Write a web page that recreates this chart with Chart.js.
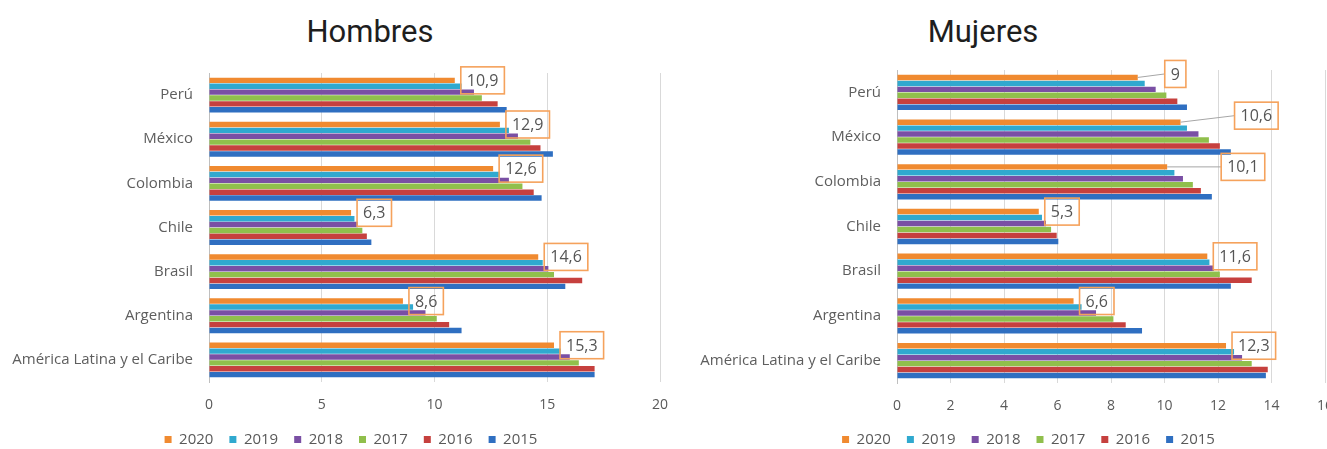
<!DOCTYPE html>
<html lang="es">
  <head>
    <meta charset="UTF-8" />
    <title>Hombres / Mujeres</title>
    <script src="https://cdn.jsdelivr.net/npm/chart.js@4.4.1/dist/chart.umd.min.js"></script>
    <style>
      body { margin: 0; width: 1327px; height: 449px; overflow: hidden; background: #fff; position: relative; }
      .title { position: absolute; top: 13px; font-family: Roboto, sans-serif; font-size: 31px; color: #1e1e1e; transform: translateX(-50%); white-space: nowrap; }
      #wrapH { position: absolute; left: 0; top: 0; width: 702px; height: 457px; }
      #wrapM { position: absolute; left: 690px; top: 0; width: 676px; height: 457px; }
    </style>
  </head>
  <body>
    <div class="title" style="left: 370px">Hombres</div>
    <div class="title" style="left: 983px">Mujeres</div>
    <div id="wrapH"><canvas id="hombres" width="702" height="457"></canvas></div>
    <div id="wrapM"><canvas id="mujeres" width="676" height="457"></canvas></div>
    <script>
      const paises = ["Perú", "México", "Colombia", "Chile", "Brasil", "Argentina", "América Latina y el Caribe"];
      const years = ["2020", "2019", "2018", "2017", "2016", "2015"];
      const colors = ["#f08a30", "#30a9cf", "#7a4fa4", "#90bf4c", "#c6403e", "#2f6fc1"];

      // hombres, una lista por año
      const h2020 = [10.9, 12.9, 12.6, 6.3, 14.6, 8.6, 15.3];
      const h2019 = [11.2, 13.3, 12.9, 6.45, 14.8, 9.05, 15.6];
      const h2018 = [11.75, 13.7, 13.3, 6.6, 15.05, 9.6, 16.0];
      const h2017 = [12.1, 14.25, 13.9, 6.8, 15.3, 10.1, 16.4];
      const h2016 = [12.8, 14.7, 14.4, 7.0, 16.55, 10.65, 17.1];
      const h2015 = [13.2, 15.25, 14.75, 7.2, 15.8, 11.2, 17.1];

      // mujeres
      const m2020 = [9, 10.6, 10.1, 5.3, 11.6, 6.6, 12.3];
      const m2019 = [9.26, 10.84, 10.37, 5.42, 11.68, 6.9, 12.6];
      const m2018 = [9.67, 11.27, 10.69, 5.57, 11.85, 7.44, 12.9];
      const m2017 = [10.07, 11.66, 11.06, 5.76, 12.07, 8.09, 13.26];
      const m2016 = [10.48, 12.07, 11.36, 5.97, 13.26, 8.55, 13.86];
      const m2015 = [10.84, 12.48, 11.77, 6.03, 12.48, 9.16, 13.79];

      const hTicks = [0, 5, 10, 15, 20];
      const mTicks = [0, 2, 4, 6, 8, 10, 12, 14, 16];

      const fontFam = "'Open Sans', 'Liberation Sans', sans-serif";
      const gray = "#595959";

      // recuadros naranjas con el valor de 2020
      const boxLabels = {
        id: "boxLabels",
        afterLayout(chart, args, opts) {
          // la leyenda va un poco corrida a la derecha
          if (chart.legend && opts.legendShift) {
            chart.legend.left += opts.legendShift;
            chart.legend.right += opts.legendShift;
          }
        },
        afterDatasetsDraw(chart, args, opts) {
          const c = chart.ctx;
          const meta = chart.getDatasetMeta(0);
          const vals = chart.data.datasets[0].data;
          c.save();
          c.font = "16px " + fontFam;
          c.textBaseline = "middle";
          meta.data.forEach((bar, i) => {
            const off = (opts.offsets && opts.offsets[i]) || [6, 0];
            const txt = String(vals[i]).replace(".", ",");
            const w = c.measureText(txt).width + 12;
            const h = 27;
            const bx = bar.x + off[0];
            const cy = bar.y + off[1];
            if (off[0] > 10) {
              c.strokeStyle = "#a6a6a6";
              c.lineWidth = 1;
              c.beginPath();
              c.moveTo(bar.x, bar.y);
              c.lineTo(bx, cy);
              c.stroke();
            }
            c.strokeStyle = "#f5a25c";
            c.lineWidth = 1.6;
            c.strokeRect(bx, cy - h / 2, w, h);
            c.fillStyle = "#555555";
            c.textAlign = "center";
            c.fillText(txt, bx + w / 2, cy + 1);
          });
          c.restore();
        }
      };

      function makeChart(id, series, ticks, yWidth, padRight, padTop, xBottomH, offsets) {
        const datasets = years.map((y, i) => ({
          label: y,
          data: series[i],
          backgroundColor: colors[i],
          barPercentage: 0.92,
          categoryPercentage: 0.8
        }));
        return new Chart(document.getElementById(id), {
          type: "bar",
          data: { labels: paises, datasets: datasets },
          plugins: [boxLabels],
          options: {
            indexAxis: "y",
            responsive: false,
            animation: false,
            layout: { padding: { top: padTop, right: padRight, left: 0, bottom: 0 } },
            scales: {
              x: {
                min: 0,
                max: ticks[ticks.length - 1],
                afterBuildTicks: (s) => { s.ticks = ticks.map((v) => ({ value: v })); },
                afterFit: (s) => { s.height = xBottomH; },
                grid: { color: "#d9d9d9", drawTicks: false },
                border: { display: false },
                ticks: { color: gray, padding: 15, font: { family: fontFam, size: 14 } }
              },
              y: {
                afterFit: (s) => { s.width = yWidth; },
                grid: { display: false, drawTicks: false },
                border: { display: true, color: "#bfbfbf" },
                ticks: { color: "#5e5e5e", padding: 16, font: { family: fontFam, size: 15 } }
              }
            },
            plugins: {
              legend: {
                position: "bottom",
                labels: {
                  boxWidth: 7,
                  boxHeight: 7,
                  padding: 16,
                  color: gray,
                  font: { family: fontFam, size: 15 }
                }
              },
              tooltip: { enabled: false },
              boxLabels: { offsets: offsets, legendShift: 21 }
            }
          }
        });
      }

      makeChart("hombres", [h2020, h2019, h2018, h2017, h2016, h2015], hTicks, 209, 42, 73, 34, null);
      makeChart("mujeres", [m2020, m2019, m2018, m2017, m2016, m2015], mTicks, 207, 41, 70, 33,
        [[27, -3.5], [54, -6.5], [54, 0], [6, 0], [6, 0], [6, 0], [6, 0]]);
    </script>
  </body>
</html>
